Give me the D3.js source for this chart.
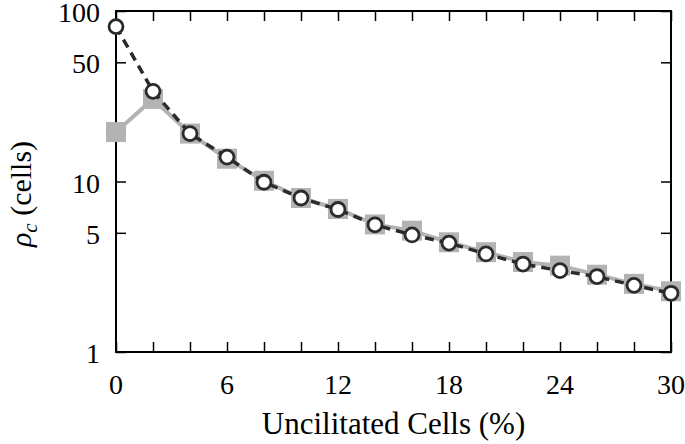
<!DOCTYPE html>
<html>
<head>
<meta charset="utf-8">
<script src="https://cdn.jsdelivr.net/npm/d3@7"></script>
<style>
	body { margin: 0; background: #fff; }
	svg text { font-family: "Liberation Serif", "DejaVu Serif", "Times New Roman", Times, serif; }
</style>
</head>
<body>
<svg></svg>
<script>
'use strict'

// x positions (% uncilitated cells)
let xs = [0, 2, 4, 6, 8, 10, 12, 14, 16, 18, 20, 22, 24, 26, 28, 30]
// grey squares series
let squareVals = [19.5, 30.5, 19.1, 13.6, 10.1, 8.0, 6.9, 5.6, 5.15, 4.4, 3.85, 3.37, 3.21, 2.84, 2.51, 2.27]
// open circles series (dashed)
let circleVals = [81, 33.8, 19.1, 13.9, 9.9, 8.0, 6.85, 5.57, 4.86, 4.35, 3.76, 3.28, 3.0, 2.77, 2.46, 2.21]

let xTickLabels = [0, 6, 12, 18, 24, 30]
let xMinorTicks = d3.range(0, 31, 2)
let yTickLabels = [1, 5, 10, 50, 100]

let width = 685,
	height = 444

let margin = { left: 116, right: 14, top: 11, bottom: 92 }

let svg = d3.select('svg')
	.attr('width', width)
	.attr('height', height)

let x = d3.scaleLinear()
	.domain([0, 30])
	.range([margin.left, width - margin.right])

let y = d3.scaleLog()
	.domain([1, 100])
	.range([height - margin.bottom, margin.top])

let tickLen = 10

// frame
svg.append('rect')
	.attr('x', x(0))
	.attr('y', y(100))
	.attr('width', x(30) - x(0))
	.attr('height', y(1) - y(100))
	.attr('fill', 'none')
	.attr('stroke', '#000')
	.attr('stroke-width', 2)

// x ticks (bottom and top, inward)
let xAxisB = d3.axisBottom(x).tickValues(xMinorTicks).tickSize(-tickLen).tickFormat('')
let xAxisT = d3.axisTop(x).tickValues(xMinorTicks).tickSize(-tickLen).tickFormat('')
svg.append('g').attr('transform', 'translate(0,' + y(1) + ')').call(xAxisB)
svg.append('g').attr('transform', 'translate(0,' + y(100) + ')').call(xAxisT)

// y ticks (left and right, inward)
let yAxisL = d3.axisLeft(y).tickValues(yTickLabels).tickSize(-tickLen).tickFormat('')
let yAxisR = d3.axisRight(y).tickValues(yTickLabels).tickSize(-tickLen).tickFormat('')
svg.append('g').attr('transform', 'translate(' + x(0) + ',0)').call(yAxisL)
svg.append('g').attr('transform', 'translate(' + x(30) + ',0)').call(yAxisR)

svg.selectAll('.domain').remove()
svg.selectAll('.tick line').attr('stroke', '#000').attr('stroke-width', 1.5)

// tick labels
svg.append('g')
	.selectAll('text')
	.data(xTickLabels)
	.enter().append('text')
	.attr('x', function(d) { return x(d) })
	.attr('y', y(1) + 42)
	.attr('text-anchor', 'middle')
	.style('font-size', '28px')
	.text(function(d) { return d })

svg.append('g')
	.selectAll('text')
	.data(yTickLabels)
	.enter().append('text')
	.attr('x', x(0) - 16)
	.attr('y', function(d) { return y(d) + 11 })
	.attr('text-anchor', 'end')
	.style('font-size', '28px')
	.text(function(d) { return d })

// axis titles
svg.append('text')
	.attr('x', (x(0) + x(30)) / 2)
	.attr('y', height - 10)
	.attr('text-anchor', 'middle')
	.style('font-size', '31px')
	.text('Uncilitated Cells (%)')

let yTitle = svg.append('text')
	.attr('transform', 'translate(31,194) rotate(-90)')
	.attr('text-anchor', 'middle')
	.style('font-size', '30px')
yTitle.append('tspan').style('font-style', 'italic').text('ρ')
yTitle.append('tspan').style('font-style', 'italic').style('font-size', '21px').attr('dy', 6).text('c')
yTitle.append('tspan').attr('dy', -6).text(' (cells)')

// grey squares series
let sqData = xs.map(function(d, i) { return { x: d, v: squareVals[i] } })
let ciData = xs.map(function(d, i) { return { x: d, v: circleVals[i] } })

let line = d3.line()
	.x(function(d) { return x(d.x) })
	.y(function(d) { return y(d.v) })

svg.append('path')
	.datum(sqData)
	.attr('d', line)
	.attr('fill', 'none')
	.attr('stroke', '#b3b3b3')
	.attr('stroke-width', 4)

let sq = 20
svg.append('g')
	.selectAll('rect')
	.data(sqData)
	.enter().append('rect')
	.attr('x', function(d) { return x(d.x) - sq / 2 })
	.attr('y', function(d) { return y(d.v) - sq / 2 })
	.attr('width', sq)
	.attr('height', sq)
	.attr('fill', '#b3b3b3')

// dashed circles series
svg.append('path')
	.datum(ciData)
	.attr('d', line)
	.attr('fill', 'none')
	.attr('stroke', '#2b2b2b')
	.attr('stroke-width', 3.5)
	.attr('stroke-dasharray', '9,6')

svg.append('g')
	.selectAll('circle')
	.data(ciData)
	.enter().append('circle')
	.attr('cx', function(d) { return x(d.x) })
	.attr('cy', function(d) { return y(d.v) })
	.attr('r', 7)
	.attr('fill', '#fff')
	.attr('stroke', '#2b2b2b')
	.attr('stroke-width', 2.8)
</script>
</body>
</html>
